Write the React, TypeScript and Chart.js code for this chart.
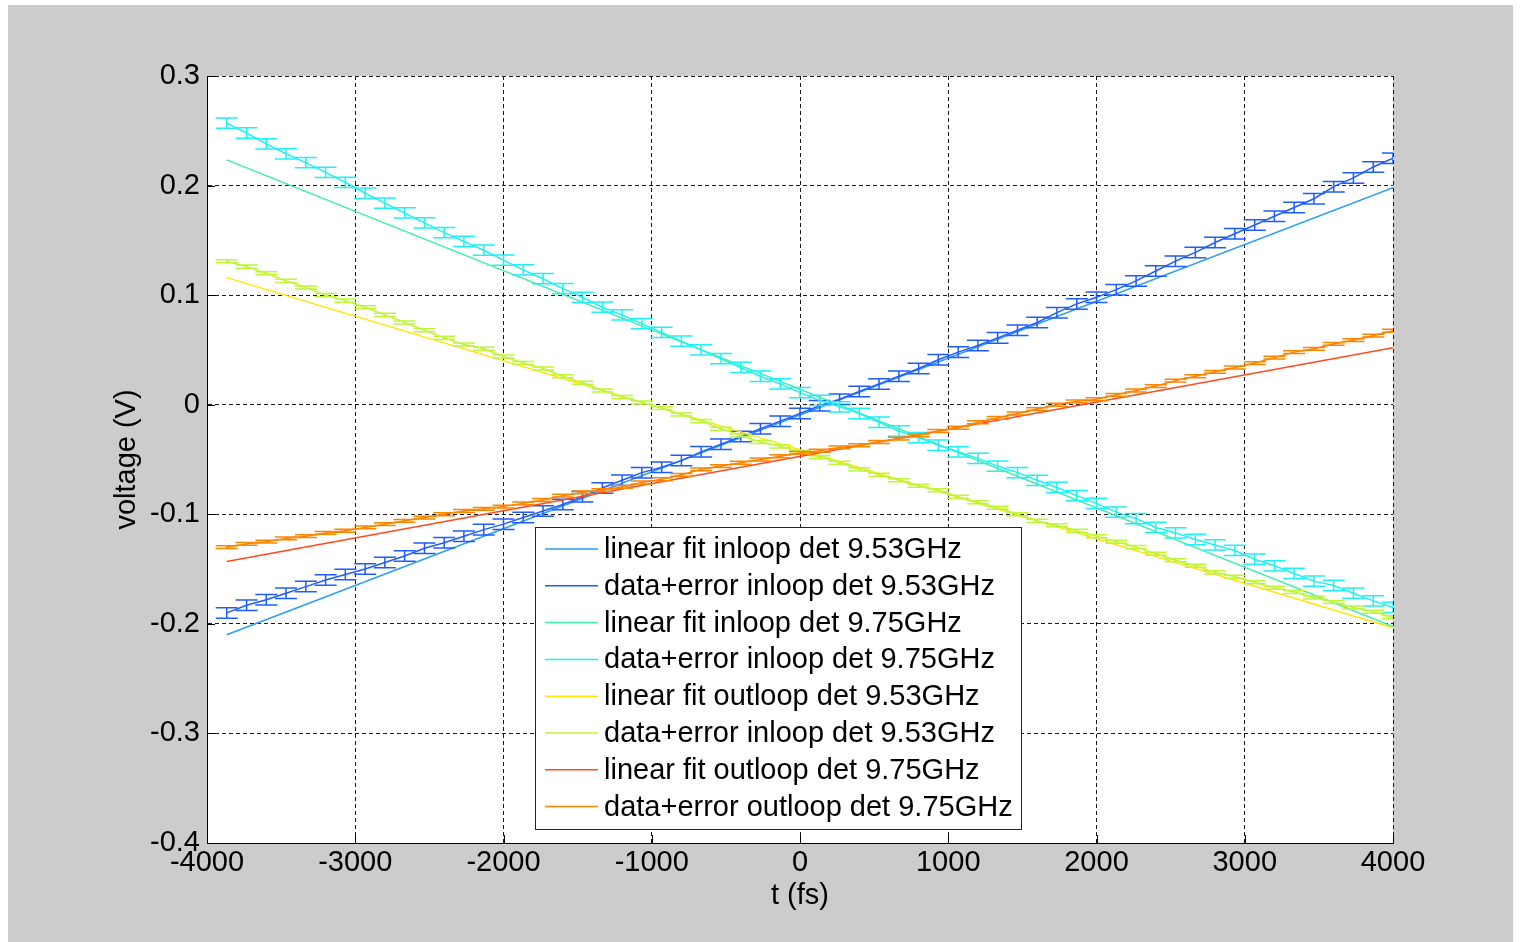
import React, { useEffect, useRef } from "react";
import { Chart, registerables } from "chart.js";

Chart.register(...registerables);

// ---- data ----
const T = [
  -3867, -3733, -3600, -3467, -3333, -3200, -3067, -2933, -2800, -2667,
  -2533, -2400, -2267, -2133, -2000, -1867, -1733, -1600, -1467, -1333,
  -1200, -1067, -933, -800, -667, -533, -400, -267, -133, 0,
  133, 267, 400, 533, 667, 800, 933, 1067, 1200, 1333,
  1467, 1600, 1733, 1867, 2000, 2133, 2267, 2400, 2533, 2667,
  2800, 2933, 3067, 3200, 3333, 3467, 3600, 3733, 3867, 4000,
];

const FIT_T = [-3867, 4000];

const FIT_INLOOP_953 = [-0.21, 0.198];
const DATA_INLOOP_953 = [
  -0.19, -0.183, -0.178, -0.172, -0.166, -0.16, -0.155, -0.15, -0.144, -0.138,
  -0.131, -0.126, -0.12, -0.114, -0.109, -0.103, -0.097, -0.091, -0.084, -0.076,
  -0.069, -0.062, -0.057, -0.051, -0.043, -0.036, -0.029, -0.022, -0.015, -0.008,
  -0.001, 0.005, 0.012, 0.019, 0.026, 0.033, 0.041, 0.048, 0.054, 0.061,
  0.068, 0.075, 0.084, 0.092, 0.098, 0.105, 0.113, 0.122, 0.131, 0.139,
  0.148, 0.156, 0.164, 0.172, 0.18, 0.188, 0.199, 0.207, 0.217, 0.225,
];
const ERR_INLOOP_953 = 0.0048;

const FIT_INLOOP_975 = [0.2235, -0.2025];
const DATA_INLOOP_975 = [
  0.257, 0.248, 0.238, 0.229, 0.221, 0.212, 0.203, 0.193, 0.184, 0.175,
  0.166, 0.157, 0.149, 0.141, 0.132, 0.123, 0.115, 0.106, 0.098, 0.089,
  0.082, 0.074, 0.066, 0.058, 0.05, 0.042, 0.034, 0.026, 0.019, 0.011,
  0.004, -0.002, -0.008, -0.016, -0.024, -0.03, -0.037, -0.043, -0.049, -0.056,
  -0.062, -0.069, -0.0755, -0.083, -0.09, -0.098, -0.104, -0.112, -0.117, -0.123,
  -0.128, -0.133, -0.141, -0.147, -0.154, -0.161, -0.165, -0.172, -0.179, -0.185,
];
const ERR_INLOOP_975 = 0.0047;

const FIT_OUTLOOP_953 = [0.116, -0.2035];
const DATA_OUTLOOP_953 = [
  0.131, 0.126, 0.12, 0.113, 0.107, 0.1, 0.095, 0.089, 0.082, 0.075,
  0.068, 0.061, 0.055, 0.051, 0.044, 0.038, 0.033, 0.026, 0.02, 0.013,
  0.007, 0.002, -0.003, -0.009, -0.015, -0.022, -0.028, -0.034, -0.038, -0.043,
  -0.048, -0.053, -0.059, -0.064, -0.069, -0.074, -0.078, -0.084, -0.089, -0.094,
  -0.1, -0.106, -0.11, -0.115, -0.12, -0.125, -0.13, -0.136, -0.142, -0.147,
  -0.153, -0.157, -0.162, -0.167, -0.171, -0.176, -0.18, -0.185, -0.189, -0.194,
];
const ERR_OUTLOOP_953 = 0.0014;

const FIT_OUTLOOP_975 = [-0.143, 0.052];
const DATA_OUTLOOP_975 = [
  -0.13, -0.127, -0.125, -0.122, -0.12, -0.117, -0.115, -0.112, -0.109, -0.106,
  -0.103, -0.1, -0.097, -0.095, -0.093, -0.09, -0.087, -0.083, -0.08, -0.078,
  -0.075, -0.071, -0.068, -0.064, -0.059, -0.056, -0.053, -0.05, -0.047, -0.044,
  -0.042, -0.039, -0.037, -0.034, -0.031, -0.028, -0.024, -0.021, -0.016, -0.012,
  -0.008, -0.004, 0.0, 0.003, 0.005, 0.009, 0.013, 0.017, 0.022, 0.026,
  0.03, 0.034, 0.038, 0.043, 0.048, 0.051, 0.0555, 0.059, 0.063, 0.0675,
];
const ERR_OUTLOOP_975 = 0.0013;

const LABELS = [
  "linear fit inloop det 9.53GHz",
  "data+error inloop det 9.53GHz",
  "linear fit inloop det 9.75GHz",
  "data+error inloop det 9.75GHz",
  "linear fit outloop det 9.53GHz",
  "data+error inloop det 9.53GHz",
  "linear fit outloop det 9.75GHz",
  "data+error outloop det 9.75GHz",
];

const COLORS = [
  "#2a9ef8",
  "#1f5cff",
  "#3cf0aa",
  "#1ff2f2",
  "#ffe600",
  "#c0f53a",
  "#ff4a1e",
  "#ff8400",
];

const X_TICKS = [-4000, -3000, -2000, -1000, 0, 1000, 2000, 3000, 4000];
const Y_TICKS = [-0.4, -0.3, -0.2, -0.1, 0, 0.1, 0.2, 0.3];

const FONT = '"Liberation Sans", Arial, Helvetica, sans-serif';
const FS = 29;

function pts(xs: number[], ys: number[]) {
  return xs.map((x, i) => ({ x, y: ys[i] }));
}

const bgPlugin = {
  id: "plotBg",
  beforeDraw(chart: any) {
    const { ctx, chartArea } = chart;
    ctx.save();
    ctx.fillStyle = "#ffffff";
    ctx.fillRect(
      chartArea.left,
      chartArea.top,
      chartArea.right - chartArea.left,
      chartArea.bottom - chartArea.top
    );
    ctx.restore();
  },
};

const errorBarPlugin = {
  id: "errorBars",
  afterDatasetDraw(chart: any, args: any) {
    const ds: any = chart.data.datasets[args.index];
    const err = ds.err;
    if (err == null) return;
    const xs = chart.scales.x;
    const ys = chart.scales.y;
    const { ctx, chartArea } = chart;
    ctx.save();
    ctx.beginPath();
    ctx.rect(
      chartArea.left,
      chartArea.top,
      chartArea.right - chartArea.left,
      chartArea.bottom - chartArea.top
    );
    ctx.clip();
    ctx.strokeStyle = ds.borderColor;
    ctx.lineWidth = 1.5;
    ctx.beginPath();
    const cap = 11;
    ds.data.forEach((p: any) => {
      const px = xs.getPixelForValue(p.x);
      const top = ys.getPixelForValue(p.y + err);
      const bot = ys.getPixelForValue(p.y - err);
      ctx.moveTo(px, top);
      ctx.lineTo(px, bot);
      ctx.moveTo(px - cap, top);
      ctx.lineTo(px + cap, top);
      ctx.moveTo(px - cap, bot);
      ctx.lineTo(px + cap, bot);
    });
    ctx.stroke();
    ctx.restore();
  },
};

const inwardTicksPlugin = {
  id: "inwardTicks",
  afterDraw(chart: any) {
    const { ctx, chartArea } = chart;
    const xs = chart.scales.x;
    const ys = chart.scales.y;
    ctx.save();
    ctx.strokeStyle = "#000";
    ctx.lineWidth = 1;
    ctx.beginPath();
    Y_TICKS.forEach((v) => {
      const y = Math.round(ys.getPixelForValue(v)) + 0.5;
      ctx.moveTo(chartArea.left, y);
      ctx.lineTo(chartArea.left + 8, y);
    });
    X_TICKS.forEach((v) => {
      const x = Math.round(xs.getPixelForValue(v)) + 0.5;
      ctx.moveTo(x, chartArea.bottom);
      ctx.lineTo(x, chartArea.bottom - 8);
    });
    ctx.stroke();
    ctx.restore();
  },
};

const legendPlugin = {
  id: "boxLegend",
  afterDraw(chart: any) {
    const { ctx, chartArea } = chart;
    const x0 = chartArea.left + 328;
    const y0 = chartArea.top + 451;
    const w = 486;
    const h = 302;
    ctx.save();
    ctx.fillStyle = "#ffffff";
    ctx.fillRect(x0, y0, w, h);
    ctx.strokeStyle = "#222";
    ctx.lineWidth = 1;
    ctx.strokeRect(x0 + 0.5, y0 + 0.5, w, h);
    ctx.font = FS + "px " + FONT;
    ctx.textBaseline = "middle";
    ctx.textAlign = "left";
    chart.data.datasets.forEach((ds: any, i: number) => {
      const y = y0 + 22 + i * 36.8;
      ctx.strokeStyle = ds.borderColor;
      ctx.lineWidth = 1.5;
      ctx.beginPath();
      ctx.moveTo(x0 + 10, y);
      ctx.lineTo(x0 + 63, y);
      ctx.stroke();
      ctx.fillStyle = "#000";
      ctx.fillText(ds.label, x0 + 69, y + 1);
    });
    ctx.restore();
  },
};

export default function App() {
  const ref = useRef<HTMLCanvasElement | null>(null);

  useEffect(() => {
    if (!ref.current) return;
    const series = [
      { d: pts(FIT_T, FIT_INLOOP_953), err: null },
      { d: pts(T, DATA_INLOOP_953), err: ERR_INLOOP_953 },
      { d: pts(FIT_T, FIT_INLOOP_975), err: null },
      { d: pts(T, DATA_INLOOP_975), err: ERR_INLOOP_975 },
      { d: pts(FIT_T, FIT_OUTLOOP_953), err: null },
      { d: pts(T, DATA_OUTLOOP_953), err: ERR_OUTLOOP_953 },
      { d: pts(FIT_T, FIT_OUTLOOP_975), err: null },
      { d: pts(T, DATA_OUTLOOP_975), err: ERR_OUTLOOP_975 },
    ];
    const datasets: any[] = series.map((s, i) => ({
      label: LABELS[i],
      data: s.d,
      err: s.err,
      borderColor: COLORS[i],
      backgroundColor: COLORS[i],
      borderWidth: 1.5,
      pointRadius: 0,
      tension: 0,
      fill: false,
      order: series.length - i,
    }));

    const chart = new Chart(ref.current, {
      type: "line",
      data: { datasets },
      plugins: [bgPlugin, errorBarPlugin, inwardTicksPlugin, legendPlugin],
      options: {
        animation: false,
        responsive: false,
        devicePixelRatio: 1,
        layout: { padding: { left: 0, right: 120, top: 71, bottom: 0 } },
        plugins: {
          legend: { display: false },
          tooltip: { enabled: false },
        },
        scales: {
          x: {
            type: "linear",
            min: -4000,
            max: 4000,
            afterBuildTicks: (scale: any) => {
              scale.ticks = X_TICKS.map((v) => ({ value: v }));
            },
            afterFit: (scale: any) => {
              scale.height = 99;
            },
            ticks: {
              autoSkip: false,
              maxRotation: 0,
              padding: 3,
              color: "#000",
              font: { family: FONT, size: FS },
              callback: (v: any) => String(Math.round(Number(v))),
            },
            grid: {
              color: "#1a1a1a",
              lineWidth: 1,
              drawTicks: false,
            },
            border: { display: true, color: "#000", width: 1, dash: [4, 3] },
            title: {
              display: true,
              text: "t (fs)",
              color: "#000",
              font: { family: FONT, size: FS },
              padding: { top: 0, bottom: 29 },
            },
          },
          y: {
            type: "linear",
            min: -0.4,
            max: 0.3,
            afterBuildTicks: (scale: any) => {
              scale.ticks = Y_TICKS.map((v) => ({ value: v }));
            },
            afterFit: (scale: any) => {
              scale.width = 199;
            },
            ticks: {
              padding: 7,
              color: "#000",
              font: { family: FONT, size: FS },
              callback: (v: any) => String(Math.round(Number(v) * 10) / 10),
            },
            grid: {
              color: "#1a1a1a",
              lineWidth: 1,
              drawTicks: false,
            },
            border: { display: true, color: "#000", width: 1, dash: [4, 3] },
            title: {
              display: true,
              text: "voltage (V)",
              color: "#000",
              font: { family: FONT, size: FS },
              padding: { top: 102, bottom: 0 },
            },
          },
        },
      } as any,
    });
    return () => chart.destroy();
  }, []);

  return (
    <div
      style={{
        position: "absolute",
        left: 8,
        top: 5,
        width: 1505,
        height: 937,
        background: "#cccccc",
      }}
    >
      <canvas ref={ref} width={1505} height={937} style={{ display: "block", width: 1505, height: 937 }} />
    </div>
  );
}
